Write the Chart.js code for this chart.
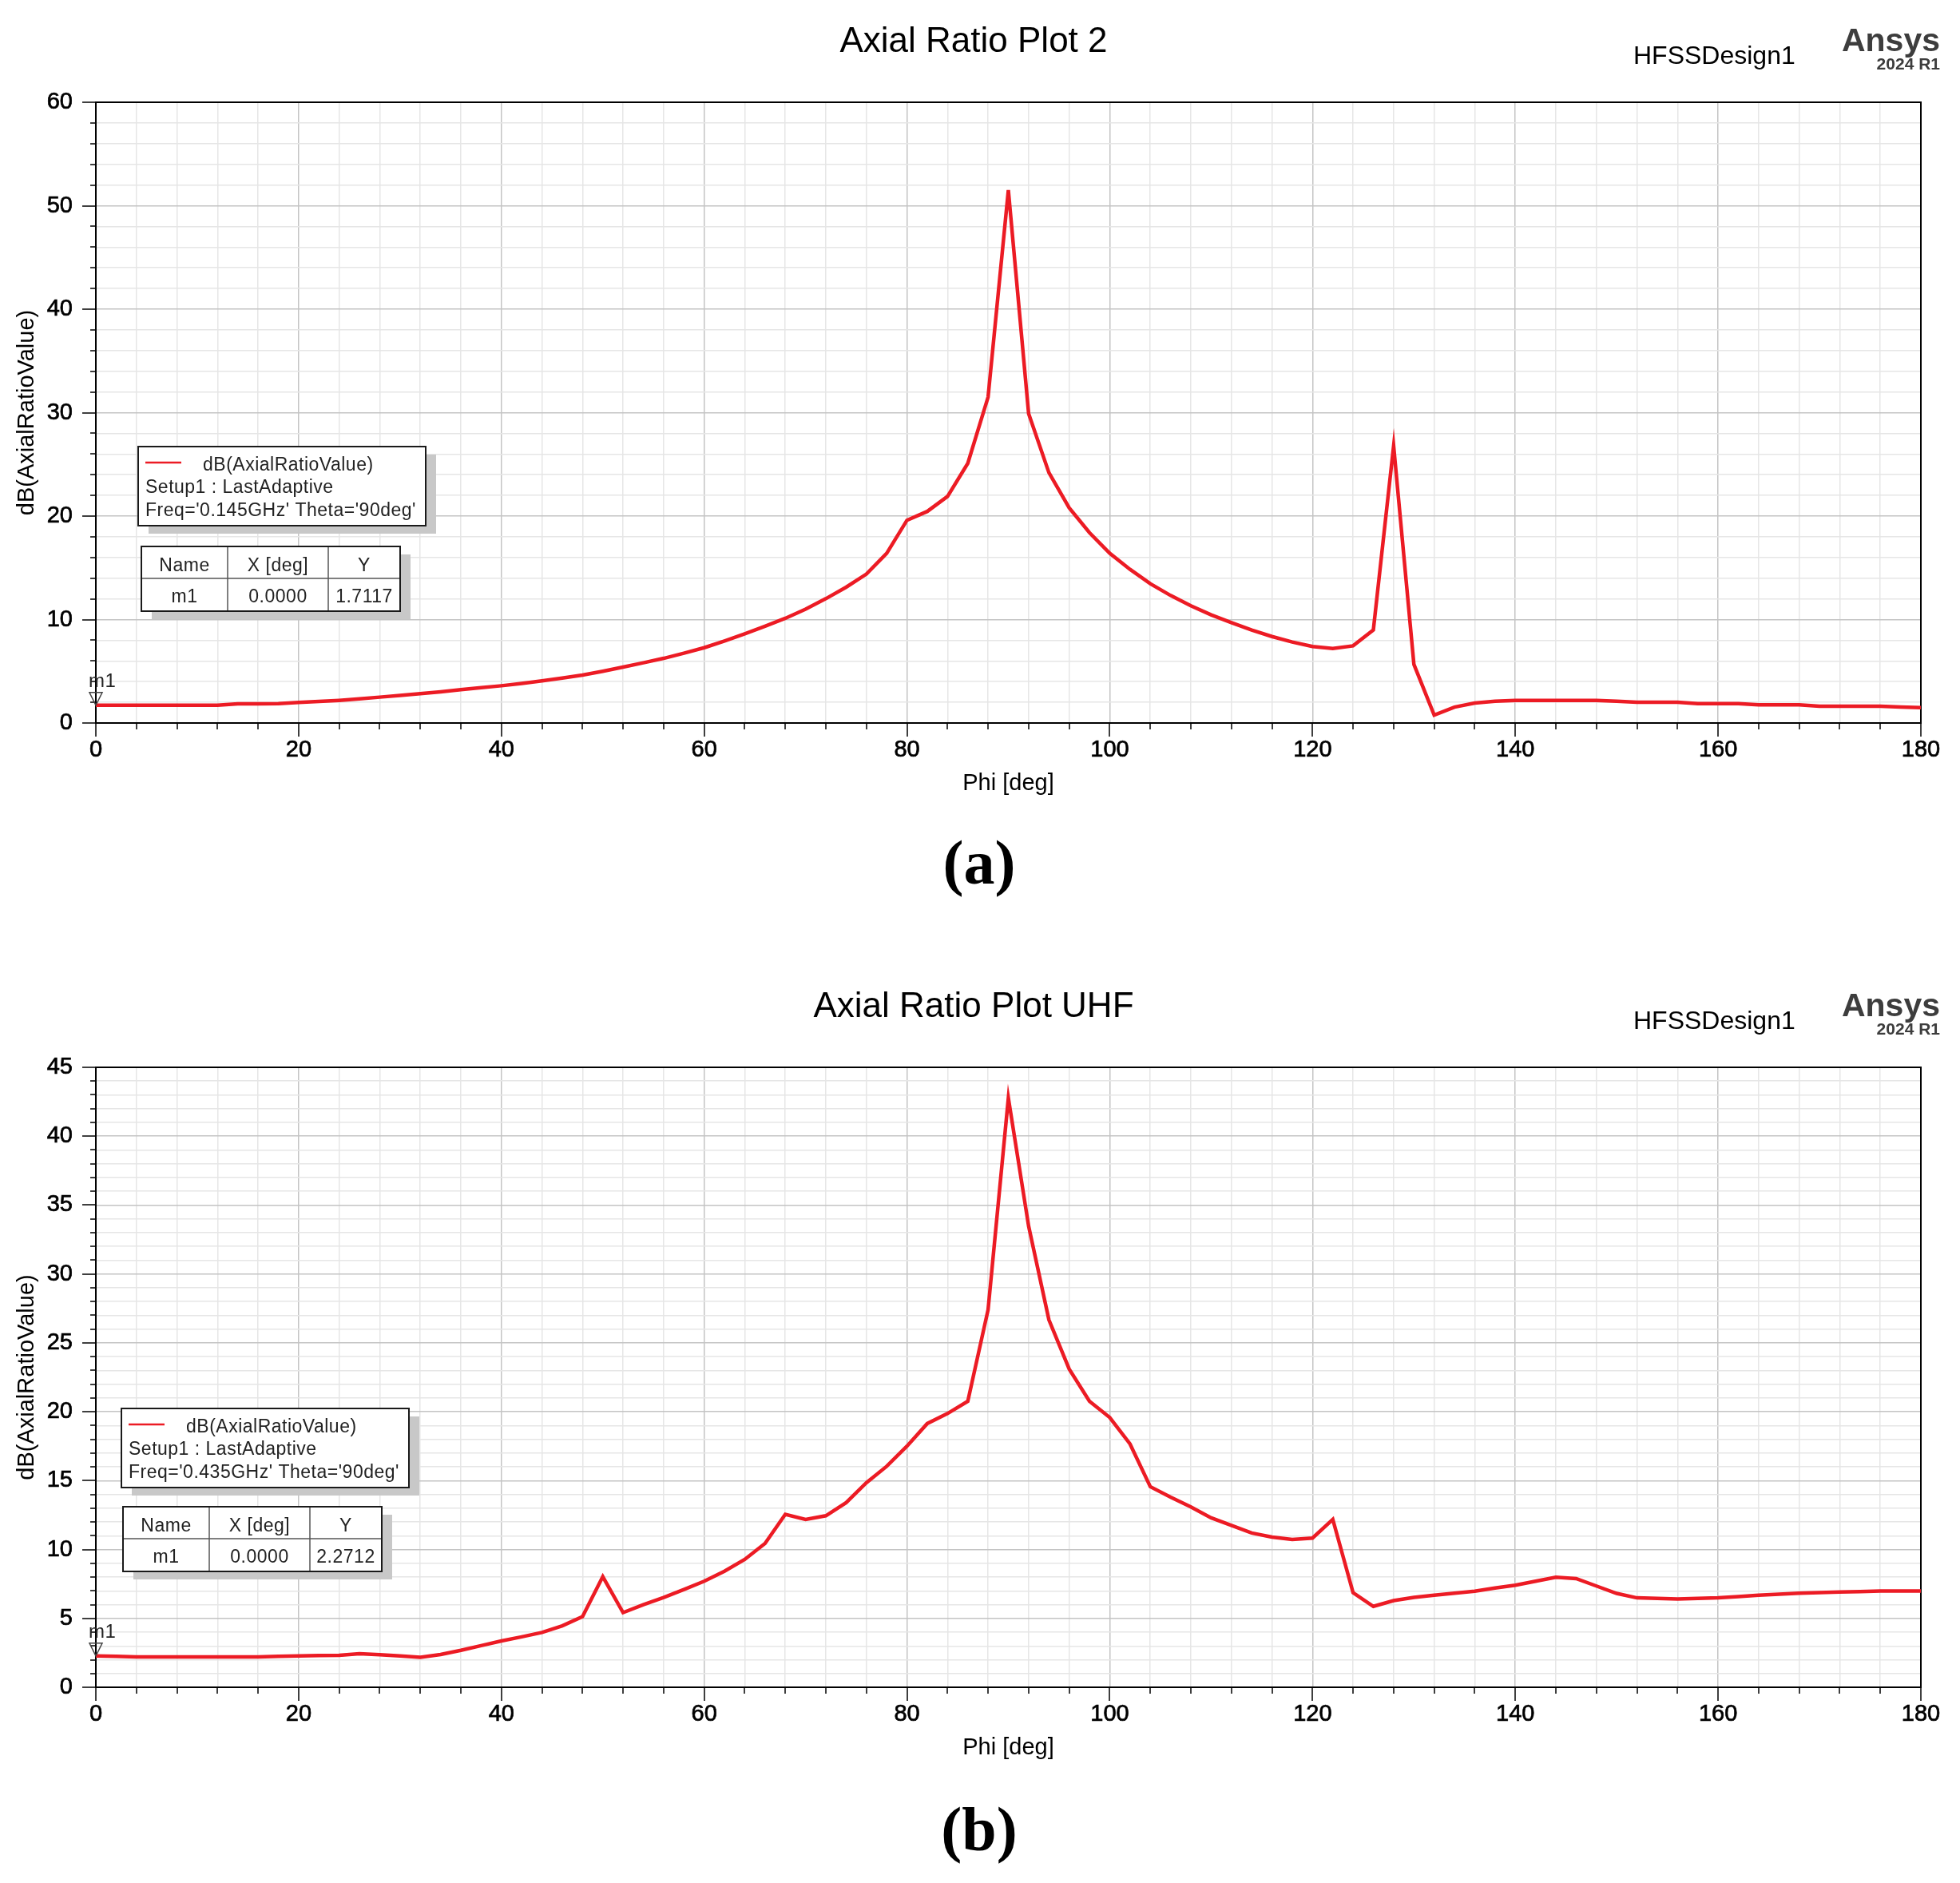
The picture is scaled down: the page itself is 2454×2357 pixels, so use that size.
<!DOCTYPE html>
<html>
<head>
<meta charset="utf-8">
<title>Axial Ratio Plots</title>
<script src="https://cdn.jsdelivr.net/npm/chart.js@4.4.1/dist/chart.umd.min.js"></script>
<style>
  html, body { margin: 0; padding: 0; background: #fff; }
  body { width: 2454px; height: 2357px; position: relative; overflow: hidden; }
  canvas { position: absolute; left: 0; }
</style>
</head>
<body>
<canvas id="plotA" width="2454" height="1208" style="top:0"></canvas>
<canvas id="plotB" width="2454" height="1149" style="top:1208px"></canvas>
<script>
// Phi sweep, 2 degree steps
const phi = [0, 2, 4, 6, 8, 10, 12, 14, 16, 18,
  20, 22, 24, 26, 28, 30, 32, 34, 36, 38,
  40, 42, 44, 46, 48, 50, 52, 54, 56, 58,
  60, 62, 64, 66, 68, 70, 72, 74, 76, 78,
  80, 82, 84, 86, 88, 90, 92, 94, 96, 98,
  100, 102, 104, 106, 108, 110, 112, 114, 116, 118,
  120, 122, 124, 126, 128, 130, 132, 134, 136, 138,
  140, 142, 144, 146, 148, 150, 152, 154, 156, 158,
  160, 162, 164, 166, 168, 170, 172, 174, 176, 178,
  180];

// dB(AxialRatioValue) at 0.145 GHz
const arVhf = [1.7117, 1.71, 1.71, 1.71, 1.71, 1.71, 1.72, 1.85, 1.86, 1.88,
  1.98, 2.08, 2.19, 2.34, 2.50, 2.66, 2.83, 3.02, 3.22, 3.41,
  3.60, 3.83, 4.07, 4.34, 4.63, 5.00, 5.41, 5.82, 6.25, 6.75,
  7.28, 7.93, 8.62, 9.35, 10.12, 11.00, 12.02, 13.13, 14.40, 16.40,
  19.60, 20.45, 21.90, 25.10, 31.50, 51.50, 29.90, 24.20, 20.80, 18.40,
  16.40, 14.85, 13.46, 12.33, 11.33, 10.45, 9.70, 8.98, 8.36, 7.83,
  7.39, 7.20, 7.46, 9.00, 26.80, 5.66, 0.77, 1.54, 1.93, 2.11,
  2.19, 2.19, 2.19, 2.19, 2.19, 2.11, 2.00, 2.00, 2.00, 1.88,
  1.88, 1.88, 1.75, 1.75, 1.75, 1.62, 1.62, 1.62, 1.62, 1.55,
  1.49];

// dB(AxialRatioValue) at 0.435 GHz
const arUhf = [2.2712, 2.24, 2.20, 2.20, 2.20, 2.20, 2.20, 2.20, 2.20, 2.24,
  2.28, 2.30, 2.32, 2.44, 2.36, 2.28, 2.17, 2.38, 2.68, 3.02,
  3.36, 3.66, 3.98, 4.46, 5.13, 8.03, 5.42, 6.00, 6.52, 7.10,
  7.70, 8.42, 9.28, 10.44, 12.55, 12.18, 12.45, 13.40, 14.85, 16.04,
  17.50, 19.14, 19.87, 20.76, 27.40, 42.77, 33.47, 26.67, 23.10, 20.76,
  19.58, 17.66, 14.56, 13.80, 13.09, 12.30, 11.75, 11.20, 10.90, 10.73,
  10.83, 12.18, 6.87, 5.87, 6.29, 6.52, 6.68, 6.83, 6.97, 7.20,
  7.41, 7.70, 7.99, 7.89, 7.35, 6.81, 6.49, 6.45, 6.41, 6.45,
  6.49, 6.58, 6.68, 6.75, 6.83, 6.87, 6.91, 6.95, 6.99, 6.99,
  6.99];

// labelled ticks
const xLabels = [0, 20, 40, 60, 80, 100, 120, 140, 160, 180];
const yLabelsVhf = [0, 10, 20, 30, 40, 50, 60];
const yLabelsUhf = [0, 5, 10, 15, 20, 25, 30, 35, 40, 45];

const FONT = "'Liberation Sans', Arial, sans-serif";
const RED = '#ec1b24';

const decor = {
  id: 'decor',
  beforeDatasetsDraw(chart, args, o) {
    const { ctx, chartArea: a, scales: { x, y } } = chart;
    ctx.save();
    // tick marks, long on labelled values
    ctx.strokeStyle = '#000';
    ctx.lineWidth = 1.5;
    ctx.beginPath();
    x.ticks.forEach(t => {
      const px = Math.round(x.getPixelForValue(t.value));
      const len = xLabels.includes(t.value) ? 17 : 8;
      ctx.moveTo(px, a.bottom);
      ctx.lineTo(px, a.bottom + len);
    });
    y.ticks.forEach(t => {
      const py = Math.round(y.getPixelForValue(t.value));
      const len = o.yMajor.includes(t.value) ? 17 : 7;
      ctx.moveTo(a.left, py);
      ctx.lineTo(a.left - len, py);
    });
    ctx.stroke();
    // plot frame
    ctx.lineWidth = 2;
    ctx.strokeRect(a.left, a.top, a.right - a.left, a.bottom - a.top);
    ctx.restore();
  },
  afterDraw(chart, args, o) {
    const { ctx, scales: { x, y } } = chart;
    const vals = chart.data.datasets[0].data;
    ctx.save();

    // header texts
    ctx.fillStyle = '#000';
    ctx.textBaseline = 'alphabetic';
    ctx.textAlign = 'center';
    ctx.font = '44px ' + FONT;
    ctx.fillText(o.title, 1219, 65);
    ctx.textAlign = 'left';
    ctx.font = '32px ' + FONT;
    ctx.fillText('HFSSDesign1', 2045, 80);
    ctx.fillStyle = '#3d3d3d';
    ctx.textAlign = 'right';
    ctx.font = 'bold 41px ' + FONT;
    ctx.fillText('Ansys', 2429, 64);
    ctx.font = 'bold 21px ' + FONT;
    ctx.fillText('2024 R1', 2429, 87);

    // caption
    ctx.fillStyle = '#000';
    ctx.textAlign = 'center';
    ctx.font = "bold 78px 'Liberation Serif', 'Times New Roman', serif";
    ctx.fillText(o.caption, 1226, o.captionY);

    // legend box
    const bx = o.box[0], by = o.box[1];
    ctx.fillStyle = '#c8c8c8';
    ctx.fillRect(bx + 13, by + 10, 360, 99);
    ctx.fillStyle = '#fff';
    ctx.fillRect(bx, by, 360, 99);
    ctx.strokeStyle = '#1a1a1a';
    ctx.lineWidth = 2;
    ctx.strokeRect(bx, by, 360, 99);
    ctx.strokeStyle = RED;
    ctx.lineWidth = 2.5;
    ctx.beginPath();
    ctx.moveTo(bx + 9, by + 20);
    ctx.lineTo(bx + 54, by + 20);
    ctx.stroke();
    ctx.fillStyle = '#222';
    ctx.textAlign = 'left';
    ctx.font = '23px ' + FONT;
    ctx.letterSpacing = '0.5px';
    ctx.fillText('dB(AxialRatioValue)', bx + 81, by + 30);
    ctx.fillText('Setup1 : LastAdaptive', bx + 9, by + 58);
    ctx.fillText(o.setup, bx + 9, by + 87);

    // marker table
    const tx = o.table[0], ty = o.table[1];
    const cols = [0, 108, 234, 324];
    ctx.fillStyle = '#c8c8c8';
    ctx.fillRect(tx + 13, ty + 10, 324, 81);
    ctx.fillStyle = '#fff';
    ctx.fillRect(tx, ty, 324, 81);
    ctx.strokeStyle = '#555';
    ctx.lineWidth = 1.5;
    ctx.beginPath();
    ctx.moveTo(tx, ty + 40); ctx.lineTo(tx + 324, ty + 40);
    ctx.moveTo(tx + cols[1], ty); ctx.lineTo(tx + cols[1], ty + 81);
    ctx.moveTo(tx + cols[2], ty); ctx.lineTo(tx + cols[2], ty + 81);
    ctx.stroke();
    ctx.strokeStyle = '#1a1a1a';
    ctx.lineWidth = 2;
    ctx.strokeRect(tx, ty, 324, 81);
    const rows = [['Name', 'X [deg]', 'Y'],
      ['m1', phi[0].toFixed(4), vals[0].y.toFixed(4)]];
    ctx.fillStyle = '#222';
    ctx.textAlign = 'center';
    rows.forEach((r, ri) => {
      r.forEach((txt, ci) => {
        const cx = tx + (cols[ci] + cols[ci + 1]) / 2;
        ctx.fillText(txt, cx, ty + (ri ? 70 : 31));
      });
    });

    // marker m1
    const mx = x.getPixelForValue(vals[0].x);
    const my = y.getPixelForValue(vals[0].y);
    ctx.strokeStyle = '#444';
    ctx.lineWidth = 1.5;
    ctx.beginPath();
    ctx.moveTo(mx - 8, my - 16);
    ctx.lineTo(mx + 8, my - 16);
    ctx.lineTo(mx, my);
    ctx.closePath();
    ctx.stroke();
    ctx.fillStyle = '#222';
    ctx.textAlign = 'left';
    ctx.font = '24px ' + FONT;
    ctx.letterSpacing = '0.5px';
    ctx.fillText('m1', mx - 9, my - 23);
    ctx.restore();
  }
};

function makePlot(id, values, yMax, yStep, yMajor, opts) {
  const gridColor = majorList => c =>
    (c.tick && majorList.includes(c.tick.value)) ? '#c4c4c4' : '#e6e6e6';
  const tickFont = { family: FONT, size: 29 };
  return new Chart(document.getElementById(id), {
    type: 'line',
    data: {
      datasets: [{
        label: 'dB(AxialRatioValue)',
        data: phi.map((p, i) => ({ x: p, y: values[i] })),
        borderColor: RED,
        borderWidth: 4.5,
        pointRadius: 0,
        tension: 0,
        fill: false
      }]
    },
    options: {
      responsive: false,
      animation: false,
      devicePixelRatio: 1,
      layout: { padding: { left: 17, right: 49, top: 128, bottom: opts.padBottom } },
      plugins: {
        legend: { display: false },
        tooltip: { enabled: false },
        decor: Object.assign({ yMajor: yMajor }, opts)
      },
      scales: {
        x: {
          type: 'linear',
          min: 0,
          max: 180,
          ticks: {
            stepSize: 4,
            autoSkip: false,
            maxRotation: 0,
            padding: 17,
            color: '#000',
            textStrokeColor: '#000',
            textStrokeWidth: 0.7,
            font: tickFont,
            callback: v => xLabels.includes(v) ? String(v) : ''
          },
          grid: { color: gridColor(xLabels), lineWidth: 1.5, drawTicks: false },
          border: { display: false },
          title: { display: true, text: 'Phi [deg]', color: '#000', padding: 0,
                   font: { family: FONT, size: 29 } },
          afterFit: s => { s.height = 93; }
        },
        y: {
          type: 'linear',
          min: 0,
          max: yMax,
          ticks: {
            stepSize: yStep,
            autoSkip: false,
            padding: 29,
            color: '#000',
            textStrokeColor: '#000',
            textStrokeWidth: 0.7,
            font: tickFont,
            callback: v => yMajor.includes(v) ? String(v) : ''
          },
          grid: { color: gridColor(yMajor), lineWidth: 1.5, drawTicks: false },
          border: { display: false },
          title: { display: true, text: 'dB(AxialRatioValue)', color: '#000', padding: 0,
                   font: { family: FONT, size: 29 } },
          afterFit: s => { s.width = 103; }
        }
      }
    },
    plugins: [decor]
  });
}

makePlot('plotA', arVhf, 60, 2, yLabelsVhf, {
  padBottom: 210,
  title: 'Axial Ratio Plot 2',
  caption: '(a)',
  captionY: 1106,
  setup: "Freq='0.145GHz' Theta='90deg'",
  box: [173, 559],
  table: [177, 684]
});

makePlot('plotB', arUhf, 45, 1, yLabelsUhf, {
  padBottom: 152,
  title: 'Axial Ratio Plot UHF',
  caption: '(b)',
  captionY: 1108,
  setup: "Freq='0.435GHz' Theta='90deg'",
  box: [152, 555],
  table: [154, 678]
});
</script>
</body>
</html>
